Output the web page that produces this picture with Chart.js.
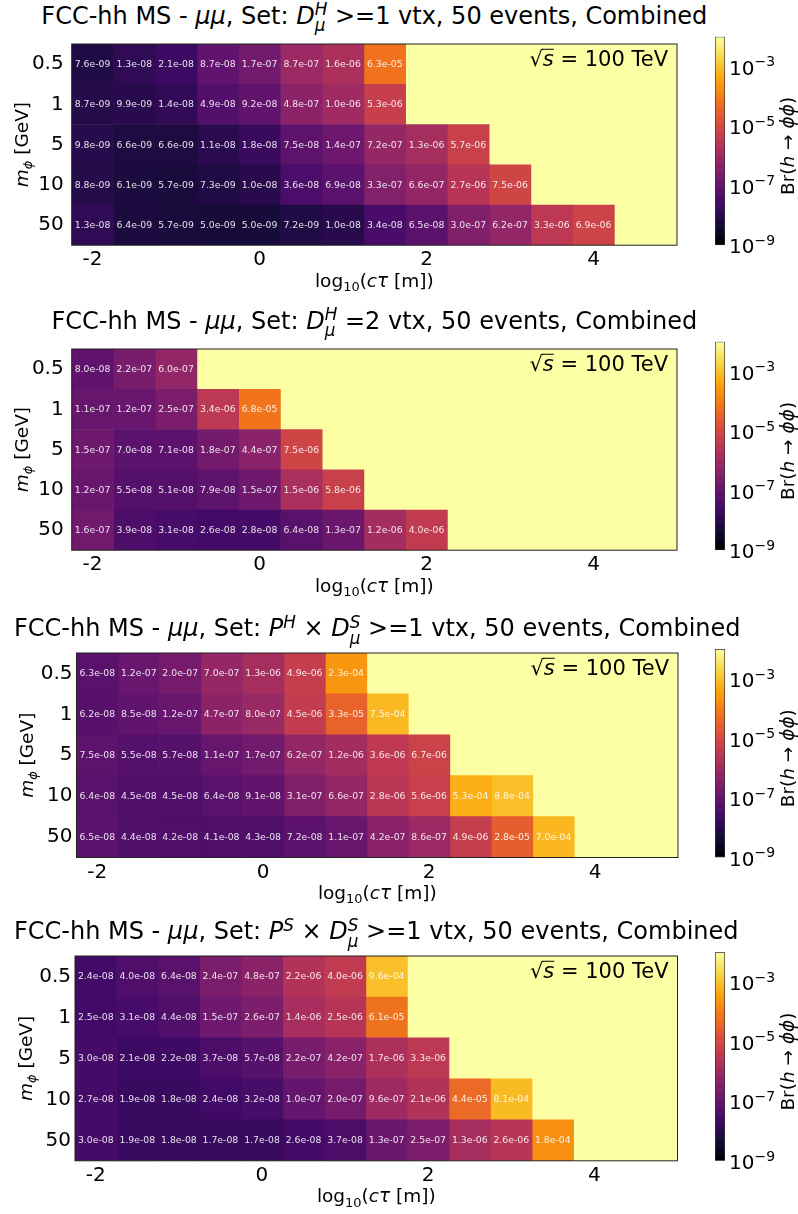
<!DOCTYPE html>
<html>
<head>
<meta charset="utf-8">
<title>FCC-hh MS - μμ Br(h → ϕϕ) limits</title>
<script src="https://cdn.jsdelivr.net/npm/chart.js@4.4.0/dist/chart.umd.min.js"></script>
<style>
  body { margin: 0; background: #fff; font-family: "DejaVu Sans", sans-serif; }
  #page { position: relative; width: 798px; height: 1214px; overflow: hidden; }
  canvas { position: absolute; }
  .title { position: absolute; text-align: center; font-size: 24px; line-height: 28px; white-space: nowrap; color: #000; }
  .ss { display: inline-block; vertical-align: -0.45em; font-size: 0.7em; line-height: 0.95; text-align: left; }
  .ss span { display: block; }
  .sup { position: relative; top: -0.5em; font-size: 0.7em; line-height: 0; }
</style>
</head>
<body>
<div id="page"></div>
<script>
// === Data ===
const massLabels = ['0.5', '1', '5', '10', '50'];   // m_phi [GeV], top row first
const ctauCenters = [-2, -1.5, -1, -0.5, 0, 0.5, 1, 1.5, 2, 2.5, 3, 3.5, 4];   // log10(c tau [m])
const xTicks = [-2, 0, 2, 4];
const cbTicks = [1e-9, 1e-7, 1e-5, 1e-3];

// Br(h -> phi phi) limit per cell, one row per mass (missing cells = above scale)
const brDmuH1 = [
    [7.6e-09, 1.3e-08, 2.1e-08, 8.7e-08, 1.7e-07, 8.7e-07, 1.6e-06, 6.3e-05],
    [8.7e-09, 9.9e-09, 1.4e-08, 4.9e-08, 9.2e-08, 4.8e-07, 1.0e-06, 5.3e-06],
    [9.8e-09, 6.6e-09, 6.6e-09, 1.1e-08, 1.8e-08, 7.5e-08, 1.4e-07, 7.2e-07, 1.3e-06, 5.7e-06],
    [8.8e-09, 6.1e-09, 5.7e-09, 7.3e-09, 1.0e-08, 3.6e-08, 6.9e-08, 3.3e-07, 6.6e-07, 2.7e-06, 7.5e-06],
    [1.3e-08, 6.4e-09, 5.7e-09, 5.0e-09, 5.0e-09, 7.2e-09, 1.0e-08, 3.4e-08, 6.5e-08, 3.0e-07, 6.2e-07, 3.3e-06, 6.9e-06]
];
const brDmuH2 = [
    [8.0e-08, 2.2e-07, 6.0e-07],
    [1.1e-07, 1.2e-07, 2.5e-07, 3.4e-06, 6.8e-05],
    [1.5e-07, 7.0e-08, 7.1e-08, 1.8e-07, 4.4e-07, 7.5e-06],
    [1.2e-07, 5.5e-08, 5.1e-08, 7.9e-08, 1.5e-07, 1.5e-06, 5.8e-06],
    [1.6e-07, 3.9e-08, 3.1e-08, 2.6e-08, 2.8e-08, 6.4e-08, 1.3e-07, 1.2e-06, 4.0e-06]
];
const brPHxDmuS = [
    [6.3e-08, 1.2e-07, 2.0e-07, 7.0e-07, 1.3e-06, 4.9e-06, 2.3e-04],
    [6.2e-08, 8.5e-08, 1.2e-07, 4.7e-07, 8.0e-07, 4.5e-06, 3.3e-05, 7.5e-04],
    [7.5e-08, 5.5e-08, 5.7e-08, 1.1e-07, 1.7e-07, 6.2e-07, 1.2e-06, 3.6e-06, 6.7e-06],
    [6.4e-08, 4.5e-08, 4.5e-08, 6.4e-08, 9.1e-08, 3.1e-07, 6.6e-07, 2.8e-06, 5.6e-06, 5.3e-04, 8.8e-04],
    [6.5e-08, 4.4e-08, 4.2e-08, 4.1e-08, 4.3e-08, 7.2e-08, 1.1e-07, 4.2e-07, 8.6e-07, 4.9e-06, 2.8e-05, 7.0e-04]
];
const brPSxDmuS = [
    [2.4e-08, 4.0e-08, 6.4e-08, 2.4e-07, 4.8e-07, 2.2e-06, 4.0e-06, 9.6e-04],
    [2.5e-08, 3.1e-08, 4.4e-08, 1.5e-07, 2.6e-07, 1.4e-06, 2.5e-06, 6.1e-05],
    [3.0e-08, 2.1e-08, 2.2e-08, 3.7e-08, 5.7e-08, 2.2e-07, 4.2e-07, 1.7e-06, 3.3e-06],
    [2.7e-08, 1.9e-08, 1.8e-08, 2.4e-08, 3.2e-08, 1.0e-07, 2.0e-07, 9.6e-07, 2.1e-06, 4.4e-05, 8.1e-04],
    [3.0e-08, 1.9e-08, 1.8e-08, 1.7e-08, 1.7e-08, 2.6e-08, 3.7e-08, 1.3e-07, 2.5e-07, 1.3e-06, 2.6e-06, 1.8e-04]
];

const dMu = s => `<i>D</i><span class="ss"><span><i>${s}</i></span><span><i>μ</i></span></span>`;
const panelTitles = [
    `FCC-hh MS - <i>μμ</i>, Set: ${dMu('H')} &gt;=1 vtx, 50 events, Combined`,
    `FCC-hh MS - <i>μμ</i>, Set: ${dMu('H')} =2 vtx, 50 events, Combined`,
    `FCC-hh MS - <i>μμ</i>, Set: <i>P</i><span class="sup"><i>H</i></span> × ${dMu('S')} &gt;=1 vtx, 50 events, Combined`,
    `FCC-hh MS - <i>μμ</i>, Set: <i>P</i><span class="sup"><i>S</i></span> × ${dMu('S')} &gt;=1 vtx, 50 events, Combined`
];
const panelValues = [brDmuH1, brDmuH2, brPHxDmuS, brPSxDmuS];

// === Layout (page pixels) ===
const plotTop = [36.7, 341.7, 649, 952.3];
const plotLeft = [71.7, 71.7, 76.5, 75];
const plotRight = [677, 677, 678, 677.5];
const plotH = 208.5;
const yTickGap = [8, 8, 4, 4];
const cbX = 690, cbW = 108, cbBarLeft = 715, cbBarW = 10;

Chart.defaults.font.family = '"DejaVu Sans", sans-serif';
Chart.defaults.color = '#000';

// inferno colormap, sampled every 0.1
const INFERNO = ['#000004', '#160b39', '#420a68', '#6a176e', '#932667', '#bc3754',
                 '#dd513a', '#f37819', '#fca50a', '#f6d746', '#fcffa4'];
const hexRgb = h => [1, 3, 5].map(i => parseInt(h.slice(i, i + 2), 16));
function inferno(t) {
    t = Math.min(1, Math.max(0, t));
    const s = t * (INFERNO.length - 1);
    const i = Math.min(Math.floor(s), INFERNO.length - 2);
    const f = s - i;
    const a = hexRgb(INFERNO[i]), b = hexRgb(INFERNO[i + 1]);
    return `rgb(${a.map((c, k) => Math.round(c + (b[k] - c) * f)).join(',')})`;
}
const LOG_MIN = -9, LOG_MAX = -2;
const colorOf = v => inferno((Math.log10(v) - LOG_MIN) / (LOG_MAX - LOG_MIN));

function fmtExp(v) {
    const [m, e] = v.toExponential(1).split('e');
    const n = parseInt(e, 10);
    return `${m}e${n < 0 ? '-' : '+'}${String(Math.abs(n)).padStart(2, '0')}`;
}

// draw text made of plain / italic / sub / sup runs, centred on (x, y)
function drawRich(ctx, parts, x, y, size, opts = {}) {
    const align = opts.align || 'center';
    ctx.save();
    ctx.translate(x, y);
    if (opts.rotate) ctx.rotate(opts.rotate);
    let w = 0;
    const runs = parts.map(p => {
        const s = (p.sub || p.sup) ? size * 0.7 : size;
        const font = `${p.it ? 'italic ' : ''}${s}px "DejaVu Sans"`;
        ctx.font = font;
        const width = ctx.measureText(p.t).width;
        const run = { ...p, font, x: w, width, dy: p.sub ? size * 0.22 : p.sup ? -size * 0.42 : 0 };
        w += width;
        return run;
    });
    const x0 = align === 'right' ? -w : align === 'left' ? 0 : -w / 2;
    const base = size * 0.36;
    ctx.fillStyle = '#000';
    ctx.textAlign = 'left';
    ctx.textBaseline = 'alphabetic';
    runs.forEach(r => {
        ctx.font = r.font;
        ctx.fillText(r.t, x0 + r.x, base + r.dy);
        if (r.over) ctx.fillRect(x0 + r.x - 1, base - size * 0.80, r.width + 1, 1);
    });
    ctx.restore();
}

const heatPlugin = {
    id: 'heatDecor',
    beforeDatasetsDraw(chart) {
        const { ctx, chartArea: a } = chart;
        ctx.save();
        ctx.fillStyle = inferno(1);
        ctx.fillRect(a.left, a.top, a.right - a.left, a.bottom - a.top);
        ctx.restore();
    },
    afterDatasetsDraw(chart) {
        const ctx = chart.ctx;
        ctx.save();
        ctx.font = '9.3px "DejaVu Sans"';
        ctx.fillStyle = 'rgba(255,255,255,0.88)';
        ctx.textAlign = 'center';
        ctx.textBaseline = 'middle';
        chart.data.datasets.forEach((ds, i) => {
            chart.getDatasetMeta(i).data.forEach((bar, j) => {
                const v = ds.brValues[j];
                if (v == null) return;
                const p = bar.getCenterPoint();
                ctx.fillText(fmtExp(v), p.x, p.y + 0.5);
            });
        });
        ctx.restore();
    },
    afterDraw(chart) {
        const { ctx, chartArea: a } = chart;
        ctx.save();
        ctx.strokeStyle = '#222';
        ctx.lineWidth = 1;
        ctx.strokeRect(a.left, a.top, a.right - a.left, a.bottom - a.top);
        ctx.restore();
        drawRich(ctx, [{ t: '√' }, { t: 's', it: true, over: true }, { t: ' = 100 TeV' }],
            a.right - 9, a.top + 14, 21, { align: 'right' });
        drawRich(ctx, [{ t: 'log' }, { t: '10', sub: true }, { t: '(' }, { t: 'cτ', it: true }, { t: ' [m])' }],
            (a.left + a.right) / 2, a.bottom + 35, 18.5);
        drawRich(ctx, [{ t: 'm', it: true }, { t: 'ϕ', it: true, sub: true }, { t: ' [GeV]' }],
            a.left - 50, (a.top + a.bottom) / 2, 18.5, { rotate: -Math.PI / 2 });
    }
};

const cbPlugin = {
    id: 'cbLabels',
    afterDraw(chart) {
        const a = chart.chartArea;
        const scale = chart.scales.y;
        cbTicks.forEach(v => {
            const e = Math.round(Math.log10(v));
            drawRich(chart.ctx, [{ t: '10' }, { t: (e < 0 ? '−' : '') + Math.abs(e), sup: true }],
                a.right + 4, scale.getPixelForValue(v) + 1, 20, { align: 'left' });
        });
        drawRich(chart.ctx, [{ t: 'Br(' }, { t: 'h', it: true }, { t: ' → ' }, { t: 'ϕϕ', it: true }, { t: ')' }],
            787 - cbX, (a.top + a.bottom) / 2 + 5, 18.5, { rotate: -Math.PI / 2 });
    }
};

function addCanvas(page, left, top, w, h) {
    const cv = document.createElement('canvas');
    cv.width = w; cv.height = h;
    cv.style.left = left + 'px'; cv.style.top = top + 'px';
    cv.style.width = w + 'px'; cv.style.height = h + 'px';
    page.appendChild(cv);
    return cv;
}

const page = document.getElementById('page');

panelValues.forEach((rows, i) => {
    const top = plotTop[i], left = plotLeft[i], right = plotRight[i];
    const canvasTop = Math.floor(top) - 12;
    const padTop = top - canvasTop;
    const h = 300;
    const xAxisH = h - padTop - plotH;
    const w = Math.ceil(right) + 4;

    // title centred over the plot box
    const title = document.createElement('div');
    title.className = 'title';
    title.style.left = ((left + right) / 2 - 400) + 'px';
    title.style.width = '800px';
    title.style.top = (top - 35) + 'px';
    title.innerHTML = panelTitles[i];
    page.appendChild(title);

    // one floating-bar dataset per c-tau column
    const datasets = ctauCenters.map((x, k) => ({
        data: rows.map(r => r[k] != null ? [x - 0.25, x + 0.25] : null),
        brValues: rows.map(r => r[k] != null ? r[k] : null),
        backgroundColor: rows.map(r => r[k] != null ? colorOf(r[k]) : 'rgba(0,0,0,0)'),
        borderWidth: 0,
        grouped: false,
        categoryPercentage: 1,
        barPercentage: 1
    }));

    new Chart(addCanvas(page, 0, canvasTop, w, h), {
        type: 'bar',
        data: { labels: massLabels, datasets },
        options: {
            indexAxis: 'y',
            responsive: false,
            animation: false,
            layout: { padding: { top: padTop, right: w - right, bottom: 0, left: 0 } },
            plugins: { legend: { display: false }, tooltip: { enabled: false } },
            scales: {
                x: {
                    type: 'linear', min: -2.25, max: 5,
                    grid: { display: false, drawTicks: false },
                    border: { display: false },
                    afterBuildTicks: s => { s.ticks = xTicks.map(v => ({ value: v })); },
                    afterFit: s => { s.height = xAxisH; },
                    ticks: { font: { size: 20 }, padding: 3, callback: v => String(v) }
                },
                y: {
                    grid: { display: false, drawTicks: false },
                    border: { display: false },
                    afterFit: s => { s.width = left; },
                    ticks: { font: { size: 20 }, padding: yTickGap[i] }
                }
            }
        },
        plugins: [heatPlugin]
    });

    // colour bar
    new Chart(addCanvas(page, cbX, canvasTop, cbW, h), {
        type: 'bar',
        data: {
            labels: [''],
            datasets: [{
                data: [[1e-9, 1e-2]],
                backgroundColor: c => {
                    const a = c.chart.chartArea;
                    if (!a) return INFERNO[0];
                    const g = c.chart.ctx.createLinearGradient(0, a.bottom, 0, a.top);
                    INFERNO.forEach((col, k) => g.addColorStop(k / (INFERNO.length - 1), col));
                    return g;
                },
                borderColor: '#333',
                borderWidth: 1,
                borderSkipped: false,
                categoryPercentage: 1,
                barPercentage: 1
            }]
        },
        options: {
            responsive: false,
            animation: false,
            layout: { padding: { top: padTop, bottom: xAxisH, left: cbBarLeft - cbX, right: 0 } },
            plugins: { legend: { display: false }, tooltip: { enabled: false } },
            scales: {
                x: { display: false },
                y: {
                    type: 'logarithmic', position: 'right', min: 1e-9, max: 1e-2,
                    afterBuildTicks: s => { s.ticks = cbTicks.map(v => ({ value: v })); },
                    afterFit: s => { s.width = cbW - (cbBarLeft - cbX) - cbBarW; },
                    grid: { display: false, drawTicks: false },
                    border: { display: false },
                    ticks: { display: false }
                }
            }
        },
        plugins: [cbPlugin]
    });
});
</script>
</body>
</html>
